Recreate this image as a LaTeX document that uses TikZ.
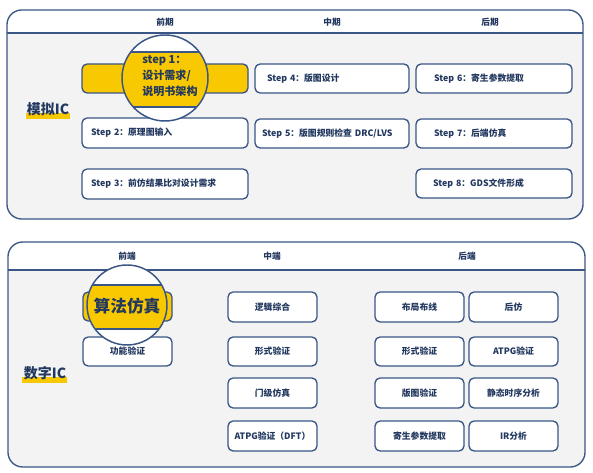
\documentclass[tikz,border=0pt]{standalone}
\usepackage{fontspec}
\setmainfont{Noto Sans CJK SC}
\definecolor{navy}{HTML}{3A5686}
\definecolor{ink}{HTML}{22385F}
\definecolor{gold}{HTML}{F8C800}
\definecolor{panel}{HTML}{F3F3F4}
\tikzset{
  box/.style={draw=navy, line width=1pt, rounded corners=3.8pt, fill=white, text=ink,
    font=\bfseries\fontsize{6.6}{8}\selectfont, inner ysep=0pt},
  head/.style={text=ink, font=\bfseries\fontsize{6.5}{8}\selectfont},
  biglabel/.style={text=ink, font=\bfseries\fontsize{10.5}{12}\selectfont, inner sep=0pt},
  frame/.style={draw=navy, line width=1pt},
}
\newcommand\stepbox[8][]{% x1 y1 x2 y2 pad name text
  \node[box,#1, minimum height={(#5-#3)*0.75pt}, inner xsep={#6*0.75pt},
    text width={(#4-#2-2*#6)*0.75pt}, align=left] (#7) at ({(#2+#4)/2},{(#3+#5)/2}) {\mbox{#8}};}
\newcommand\cbox[7][]{% x1 y1 x2 y2 name text
  \node[box,#1, minimum height={(#5-#3)*0.75pt}, minimum width={(#4-#2)*0.75pt}, inner xsep=0pt]
    (#6) at ({(#2+#4)/2},{(#3+#5)/2}) {#7};}
\begin{document}
\begin{tikzpicture}[x=0.75pt,y=-0.75pt]
\useasboundingbox (0,0) rectangle (593,473);
% ===== top panel =====
\begin{scope}
  \clip[rounded corners=11pt] (7,10) rectangle (583,219);
  \fill[panel] (7,10) rectangle (583,219);
  \fill[white] (7,10) rectangle (583,33);
\end{scope}
\draw[frame] (7,33) -- (583,33);
\draw[frame, rounded corners=11pt] (7,10) rectangle (583,219);
\node[head] (h1) at (165,22) {前期};
\node[head] (h2) at (332,22) {中期};
\node[head] (h3) at (490,22) {后期};
% label
\fill[gold] (26,113) rectangle (70,119);
\node[biglabel] (lab1) at (48,109) {模拟IC};
% boxes
\cbox[fill=gold]{82}{64}{248}{93}{s1}{}
\stepbox{82}{118}{248}{148}{9}{s2}{Step 2：原理图输入}
\stepbox{82}{169}{248}{199}{9}{s3}{Step 3：前仿结果比对设计需求}
\stepbox{255}{64}{409}{93}{12}{s4}{Step 4：版图设计}
\stepbox{255}{119}{409}{148}{7}{s5}{Step 5：版图规则检查 DRC/LVS}
\stepbox{416}{64}{572}{93}{18}{s6}{Step 6：寄生参数提取}
\stepbox{416}{119}{572}{148}{18}{s7}{Step 7：后端仿真}
\stepbox{416}{169}{572}{198}{17}{s8}{Step 8：GDS文件形成}
% magnifier 1
\begin{scope}
  \clip (165,78) circle[radius=43];
  \fill[white] (120,30) rectangle (210,125);
  \fill[gold] (120,52) rectangle (210,107);
  \draw[frame] (120,52) -- (210,52);
  \draw[frame] (120,107) -- (210,107);
\end{scope}
\draw[navy, line width=1.1pt] (165,78) circle[radius=43];
\node[text=ink, font=\bfseries\fontsize{8.3}{12}\selectfont, align=left, anchor=west, inner sep=0pt]
  (m1) at (142,76) {step 1：\\设计需求/\\说明书架构};
% ===== bottom panel =====
\begin{scope}
  \clip[rounded corners=11pt] (8,242) rectangle (585,467);
  \fill[panel] (8,242) rectangle (585,467);
  \fill[white] (8,242) rectangle (585,270);
\end{scope}
\draw[frame] (8,270) -- (585,270);
\draw[frame, rounded corners=11pt] (8,242) rectangle (585,467);
\node[head] (g1) at (127,256) {前端};
\node[head] (g2) at (272,256) {中端};
\node[head] (g3) at (467,256) {后端};
\fill[gold] (22,377) rectangle (67,383);
\node[biglabel] (lab2) at (45,373) {数字IC};
% front
\cbox[fill=gold]{83}{292}{172}{321}{f1}{}
\cbox{83}{337}{172}{366}{f2}{功能验证}
% middle
\cbox{228}{292}{317}{322}{c1}{逻辑综合}
\cbox{228}{337}{317}{366}{c2}{形式验证}
\cbox{228}{378}{317}{408}{c3}{门级仿真}
\cbox{228}{421}{317}{451}{c4}{ATPG验证（DFT）}
% back
\cbox{375}{292}{464}{322}{b1}{布局布线}
\cbox{375}{337}{464}{366}{b2}{形式验证}
\cbox{375}{378}{464}{408}{b3}{版图验证}
\cbox{375}{421}{464}{451}{b4}{寄生参数提取}
\cbox{469}{292}{558}{322}{d1}{后仿}
\cbox{469}{337}{558}{366}{d2}{ATPG验证}
\cbox{469}{378}{558}{408}{d3}{静态时序分析}
\cbox{469}{421}{558}{451}{d4}{IR分析}
% magnifier 2
\begin{scope}
  \clip (127,305) circle[radius=40];
  \fill[white] (80,260) rectangle (175,350);
  \fill[gold] (80,285) rectangle (175,329);
  \draw[frame] (80,285) -- (175,285);
  \draw[frame] (80,329) -- (175,329);
\end{scope}
\draw[navy, line width=1.1pt] (127,305) circle[radius=40];
\node[text=ink, font=\bfseries\fontsize{12.5}{14}\selectfont, inner sep=0pt] (m2) at (127,306) {算法仿真};
\end{tikzpicture}
\end{document}
